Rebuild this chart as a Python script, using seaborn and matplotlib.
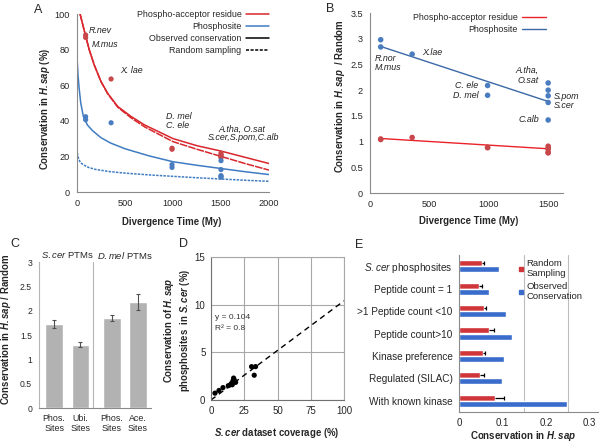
import numpy as np
import pandas as pd
import matplotlib
matplotlib.use('Agg')
import matplotlib.pyplot as plt
import seaborn as sns
from matplotlib.lines import Line2D
from matplotlib.ticker import FuncFormatter, MultipleLocator

# ---------------- data ----------------
# Panel A: conservation (%) vs divergence time
a_time = [90, 90, 355, 990, 990, 1500, 1500, 1500, 1500, 1500]
a_acceptor = [88.2, 86.8, 63.5, 24.6, 24.0, 21.8, 21.0, 20.4, 19.8, 19.3]
a_phosphosite = [42.3, 40.6, 38.9, 15.4, 13.8, 17.6, 12.6, 9.2, 8.8, 8.3]
a_red_curve_x = [32, 74, 127, 180, 250, 320, 425, 567, 707, 1000, 1250, 1500, 1750, 2000]
a_red_observed = [100, 91, 80, 71.3, 62, 55.4, 48, 42.3, 37.6, 30, 26, 23, 19.5, 16]
a_red_random = [100, 91, 80, 71.3, 62, 55.2, 47.6, 41.5, 36.5, 28.3, 24, 20, 16, 12.3]
a_blue_curve_x = [3, 10, 21, 39, 67, 109, 161, 250, 350, 500, 750, 1000, 1250, 1500, 1750, 2000]
a_blue_observed = [73, 66, 59, 50, 42.3, 37.6, 34.5, 30.5, 27.5, 24.3, 20.3, 17, 15, 13.2, 11.4, 9.8]
a_blue_random_x = [3, 15, 35, 67, 120, 200, 350, 500, 750, 1000, 1250, 1500, 1750, 2000]
a_blue_random = [22, 19, 16.5, 15.3, 13.8, 12.6, 11.4, 10.6, 9.6, 8.8, 8.0, 7.3, 6.6, 6.0]
a_species = ['R.nev', 'M.mus', 'X. lae', 'D. mel', 'C. ele', 'A.tha, O.sat', 'S.cer,S.pom,C.alb']

# Panel B: ratio to random
b_time = [90, 90, 355, 990, 990, 1500, 1500, 1500, 1500, 1500]
b_phosphosite = [2.98, 2.84, 2.70, 2.09, 1.90, 2.14, 2.00, 1.89, 1.76, 1.42]
b_acceptor = [1.05, 1.04, 1.08, 0.89, 0.88, 0.91, 0.87, 0.85, 0.79, 0.78]
b_fit_x = [90, 1500]
b_fit_phosphosite = [2.85, 1.78]
b_fit_acceptor = [1.06, 0.86]

# Panel C
c_labels = ['Phos.\nSites', 'Ubi.\nSites', 'Phos.\nSites', 'Ace.\nSites']
c_values = [1.73, 1.30, 1.85, 2.18]
c_errors = [0.08, 0.05, 0.07, 0.17]
c_groups = ['$\\mathit{S.cer}$ PTMs', '$\\mathit{D.mel}$ PTMs']

# Panel D
d_coverage = [3, 6, 9, 13, 14.5, 15.5, 16, 16.5, 17, 17.5, 18.5, 30.5, 32.5, 33.5]
d_conservation = [0.72, 1.0, 1.3, 1.5, 1.6, 1.75, 1.6, 2.0, 2.3, 2.1, 1.85, 3.5, 2.6, 3.5]
d_fit_x = [0, 100]
d_fit_y = [0, 10.4]

# Panel E
e_categories = ['$\\mathit{S.cer}$ phosphosites', 'Peptide count = 1', '>1 Peptide count <10',
                'Peptide count>10', 'Kinase preference', 'Regulated (SILAC)', 'With known kinase']
e_random = [0.053, 0.046, 0.057, 0.069, 0.055, 0.0475, 0.082]
e_random_err = [0.004, 0.007, 0.006, 0.011, 0.005, 0.009, 0.021]
e_observed = [0.091, 0.070, 0.109, 0.122, 0.103, 0.099, 0.249]

# ---------------- style ----------------
sns.set_style('white')
plt.rcParams['font.family'] = ['Liberation Sans', 'DejaVu Sans']
plt.rcParams['mathtext.fontset'] = 'custom'
plt.rcParams['mathtext.rm'] = 'Liberation Sans'
plt.rcParams['mathtext.it'] = 'Liberation Sans:italic'
plt.rcParams['mathtext.bf'] = 'Liberation Sans:italic:bold'

W, H = 601, 444
fig = plt.figure(figsize=(W / 100, H / 100), dpi=100)

def add_ax(left, top, right, bottom):
    return fig.add_axes([left / W, 1 - bottom / H, (right - left) / W, (bottom - top) / H])

RED_L = '#D9262C'
RED_P = '#C8474B'
BLUE_L = '#3F7CC2'
BLUE_P = '#4A7DC0'
AX_C = '#8A8A8A'
TICK_FS = 6.6
LAB_FS = 6.9

def style_axes(ax):
    for s in ['top', 'right']:
        ax.spines[s].set_visible(False)
    for s in ['left', 'bottom']:
        ax.spines[s].set_color(AX_C)
        ax.spines[s].set_linewidth(0.8)
    ax.tick_params(which='both', direction='out', color=AX_C, width=0.7, length=2.5,
                   labelsize=TICK_FS, pad=2.5)

fmt_g = FuncFormatter(lambda v, p: f'{v:g}')

# ---------------- Panel A ----------------
axA = add_ax(77, 14, 269, 192)
style_axes(axA)
sns.lineplot(x=a_red_curve_x, y=a_red_observed, ax=axA, color=RED_L, lw=1.1)
sns.lineplot(x=a_red_curve_x, y=a_red_random, ax=axA, color=RED_L, lw=1.1, linestyle=(0, (5, 0.7)))
sns.lineplot(x=a_blue_curve_x, y=a_blue_observed, ax=axA, color=BLUE_L, lw=1.1)
sns.lineplot(x=a_blue_random_x, y=a_blue_random, ax=axA, color=BLUE_L, lw=1.1, linestyle=(0, (1.6, 0.8)))
sns.scatterplot(x=a_time, y=a_acceptor, ax=axA, color=RED_P, s=14, edgecolor='none', zorder=5)
sns.scatterplot(x=a_time, y=a_phosphosite, ax=axA, color=BLUE_P, s=14, edgecolor='none', zorder=5)
axA.set_xlim(0, 2000)
axA.set_ylim(0, 100)
axA.xaxis.set_major_locator(MultipleLocator(500))
axA.yaxis.set_major_locator(MultipleLocator(20))
axA.yaxis.set_minor_locator(MultipleLocator(10))
axA.set_xlabel('Divergence Time (My)', fontsize=LAB_FS, fontweight='bold')
axA.set_ylabel('Conservation in $\\mathbf{H.sap}$ (%)', fontsize=LAB_FS, fontweight='bold')
axA.xaxis.set_label_coords(0.493, -0.14)
axA.yaxis.set_label_coords(-0.13, 0.466)
a_lab_pos = [(120, 90.6, 'left'), (150, 82.6, 'left'), (448, 68, 'left'), (925, 42.3, 'left'),
             (925, 37.3, 'left'), (1715, 35.2, 'center'), (1730, 30.5, 'center')]
for name, (x, y, ha) in zip(a_species, a_lab_pos):
    axA.text(x, y, name, fontsize=6.4, style='italic', ha=ha, va='center', color='#222222')
handlesA = [Line2D([], [], color=RED_L, lw=1.1), Line2D([], [], color=BLUE_L, lw=1.1),
            Line2D([], [], color='black', lw=1.1), Line2D([], [], color='black', lw=1.1, linestyle=(0, (2, 1)))]
axA.legend(handlesA, ['Phospho-acceptor residue', 'Phosphosite', 'Observed conservation', 'Random sampling'],
           loc='upper right', bbox_to_anchor=(1.0, 1.02), frameon=False, markerfirst=False,
           fontsize=6.4, handlelength=2.6, labelspacing=0.33, borderpad=0, borderaxespad=0,
           handletextpad=0.5)

# ---------------- Panel B ----------------
axB = add_ax(370, 13, 563, 193)
style_axes(axB)
sns.lineplot(x=b_fit_x, y=b_fit_phosphosite, ax=axB, color='#3B68A6', lw=1.0)
sns.lineplot(x=b_fit_x, y=b_fit_acceptor, ax=axB, color='#EA2229', lw=1.0)
sns.scatterplot(x=b_time, y=b_phosphosite, ax=axB, color=BLUE_P, s=16, edgecolor='none', zorder=5)
sns.scatterplot(x=b_time, y=b_acceptor, ax=axB, color=RED_P, s=16, edgecolor='none', zorder=5)
axB.set_xlim(0, 1625)
axB.set_ylim(0, 3.5)
axB.set_xticks([0, 500, 1000, 1500])
axB.yaxis.set_major_locator(MultipleLocator(0.5))
axB.yaxis.set_major_formatter(fmt_g)
axB.set_xlabel('Divergence Time (My)', fontsize=LAB_FS, fontweight='bold')
axB.set_ylabel('Conservation in $\\mathbf{H.sap}$  / Random', fontsize=LAB_FS, fontweight='bold')
axB.xaxis.set_label_coords(0.509, -0.13)
axB.yaxis.set_label_coords(-0.118, 0.539)
b_labels = [('R.nor', 42, 2.62, 'left'), ('M.mus', 42, 2.44, 'left'), ('X.lae', 436, 2.74, 'left'),
            ('C. ele', 913, 2.09, 'right'), ('D. mel', 913, 1.905, 'right'),
            ('A.tha,', 1418, 2.39, 'right'), ('O.sat', 1418, 2.18, 'right'),
            ('S.pom', 1548, 1.886, 'left'), ('S.cer', 1548, 1.705, 'left'), ('C.alb', 1424, 1.42, 'right')]
for name, x, y, ha in b_labels:
    axB.text(x, y, name, fontsize=6.4, style='italic', ha=ha, va='center', color='#222222')
handlesB = [Line2D([], [], color='#EA2229', lw=1.0), Line2D([], [], color='#3B68A6', lw=1.0)]
axB.legend(handlesB, ['Phospho-acceptor residue', 'Phosphosite'], loc='upper right',
           bbox_to_anchor=(0.912, 1.0), frameon=False, markerfirst=False, fontsize=6.4,
           handlelength=2.7, labelspacing=0.33, borderpad=0, borderaxespad=0, handletextpad=0.5)

# ---------------- Panel C ----------------
axC = add_ax(39, 262, 151, 408)
style_axes(axC)
axC.spines['left'].set_color('#B5B5B5')
c_pos = np.arange(len(c_values)) + np.array([0, 0, 0.2, 0.2])
sns.barplot(x=c_pos, y=c_values, ax=axC, native_scale=True, color='#B2B2B2', width=0.67,
            saturation=1, errorbar=None)
axC.errorbar(c_pos, c_values, yerr=c_errors, fmt='none', ecolor='#505050', elinewidth=0.8,
             capsize=1.3, capthick=0.8)
axC.axvline(1.5, color='#B5B5B5', lw=0.8)
axC.set_xlim(-0.58, 3.7)
axC.set_ylim(0, 3)
axC.set_xticks(c_pos)
axC.set_xticklabels(c_labels, fontsize=6.4, linespacing=1.15)
axC.set_xticks([0.5, 2.7], minor=True)
axC.tick_params(axis='x', which='major', length=0, pad=4)
axC.tick_params(axis='x', which='minor', length=2.5)
axC.yaxis.set_major_locator(MultipleLocator(0.5))
axC.yaxis.set_major_formatter(fmt_g)
axC.tick_params(axis='y', labelsize=6.2)
axC.set_ylabel('Conservation in $\\mathbf{H.sap}$ / Random', fontsize=LAB_FS, fontweight='bold')
axC.yaxis.set_label_coords(-0.232, 0.54)
for gx, gname in zip([0.5, 2.7], c_groups):
    axC.text(gx, 1.045, gname, transform=axC.get_xaxis_transform(), ha='center', va='center',
             fontsize=6.8)

# ---------------- Panel D ----------------
axD = add_ax(211, 257, 344, 400)
style_axes(axD)
axD.spines['top'].set_visible(True)
axD.spines['right'].set_visible(True)
axD.spines['top'].set_color('#A8A8A8')
axD.spines['right'].set_color('#A8A8A8')
axD.spines['left'].set_color('#707070')
axD.spines['bottom'].set_color('#707070')
axD.set_xlim(0, 100)
axD.set_ylim(0, 15)
axD.set_xticks([0, 25, 50, 75, 100])
axD.set_yticks([0, 5, 10, 15])
axD.grid(True, color='#A8A8A8', lw=0.8)
axD.set_axisbelow(True)
sns.lineplot(x=d_fit_x, y=d_fit_y, ax=axD, color='black', lw=1.0, linestyle=(0, (4, 3)))
sns.scatterplot(x=d_coverage, y=d_conservation, ax=axD, color='black', s=14, edgecolor='none', zorder=5)
axD.tick_params(length=0, pad=4, labelsize=7)
axD.text(3, 8.7, 'y = 0.104', fontsize=6, color='#333333', va='center')
axD.text(3, 7.5, 'R² = 0.8', fontsize=6, color='#333333', va='center')
axD.set_xlabel('$\\mathbf{S.cer}$ dataset coverage (%)', fontsize=LAB_FS, fontweight='bold')
axD.set_ylabel('Conservation of $\\mathbf{H.sap}$\nphosphosites  in $\\mathbf{S.cer}$ (%)',
               fontsize=LAB_FS, fontweight='bold', linespacing=1.2)
axD.xaxis.set_label_coords(0.496, -0.185)
axD.yaxis.set_label_coords(-0.14, 0.486)

# ---------------- Panel E ----------------
axE = add_ax(459, 255, 598, 412)
style_axes(axE)
dfE = pd.DataFrame({
    'category': e_categories * 2,
    'value': e_random + e_observed,
    'series': ['Random\nSampling'] * len(e_categories) + ['Observed\nConservation'] * len(e_categories),
})
RED_E = '#CF3539'
BLUE_E = '#3A6CCB'
sns.barplot(data=dfE, y='category', x='value', hue='series', orient='h', ax=axE,
            palette=[RED_E, BLUE_E], width=0.54, saturation=1, errorbar=None, legend=False)
ypos = np.arange(len(e_categories)) - 0.135
ends = np.array(e_random) + np.array(e_random_err)
axE.hlines(ypos, e_random, ends, color='black', lw=0.9, zorder=6)
axE.plot(ends, ypos, linestyle='none', marker='|', ms=3.2, mew=0.9, color='black', zorder=6)
axE.set_xlim(0, 0.32)
axE.set_ylim(6.5, -0.5)
for gx in [0.15, 0.25]:
    axE.axvline(gx, color='#BDBDBD', lw=0.8, zorder=0)
axE.set_xticks([0, 0.1, 0.2, 0.3])
axE.xaxis.set_major_formatter(fmt_g)
axE.set_yticks(np.arange(len(e_categories)))
axE.set_yticklabels(e_categories, fontsize=7.2)
axE.set_yticks(np.arange(-0.5, 7, 1), minor=True)
axE.tick_params(axis='y', which='major', length=0, pad=4.5)
axE.tick_params(axis='y', which='minor', length=3)
axE.tick_params(axis='x', length=0, pad=4, labelsize=7)
axE.set_ylabel('')
axE.set_xlabel('Conservation in $\\mathbf{H.sap}$', fontsize=7, fontweight='bold')
axE.xaxis.set_label_coords(0.463, -0.11)
handlesE = [Line2D([], [], linestyle='none', marker='s', ms=3, color=RED_E),
            Line2D([], [], linestyle='none', marker='s', ms=3, color=BLUE_E)]
axE.legend(handlesE, ['Random\nSampling', 'Observed\nConservation'], loc='upper left',
           bbox_to_anchor=(0.43, 0.975), frameon=False, fontsize=6.8, handlelength=0.5,
           handletextpad=0.3, labelspacing=0.35, borderpad=0, borderaxespad=0)

# ---------------- panel letters ----------------
for letter, x, y in [('A', 38, 10), ('B', 330, 9), ('C', 15, 244), ('D', 184, 244), ('E', 359, 245)]:
    fig.text(x / W, 1 - y / H, letter, fontsize=9, ha='center', va='center')

fig.savefig('out.png', dpi=100, facecolor='white')
